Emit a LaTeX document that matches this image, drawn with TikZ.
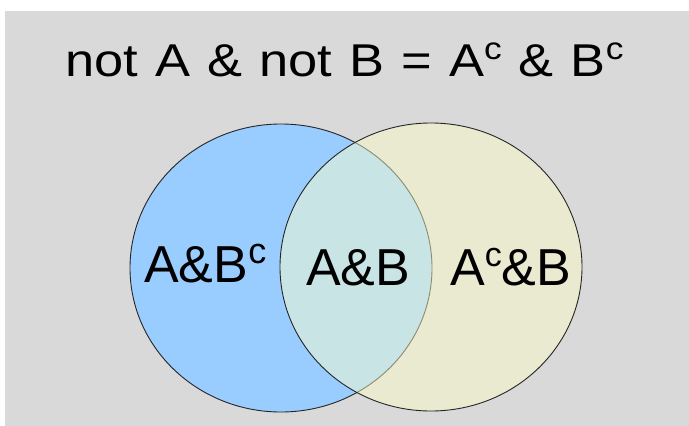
\documentclass[tikz,border=0pt]{standalone}
\usepackage{fontspec}
\setmainfont{Liberation Sans}
\definecolor{panelgray}{HTML}{D9D9D9}
\definecolor{setblue}{HTML}{99CCFF}
\definecolor{setcream}{HTML}{FFFFC8}
% raised small "c" for complements: #1 = size, #2 = raise
\newcommand{\compl}[2]{\raisebox{#2}{\fontsize{#1}{#1}\selectfont c}}
\begin{document}
\begin{tikzpicture}[x=1pt,y=-1pt,
  setline/.style={draw=black!85, line width=0.9pt},
  label/.style={inner sep=0pt, anchor=base west, font=\fontsize{52}{52}\selectfont},
  titletext/.style={inner sep=0pt, anchor=base west, font=\fontsize{46}{46}\selectfont}]
  \useasboundingbox (0,0) rectangle (689,426);
  \fill[white] (0,0) rectangle (689,426);
  \fill[panelgray] (5,11) rectangle (689,426);

  % set A, then set B laid over it with a translucent fill
  \path[fill=setblue, setline] (281,268) ellipse [x radius=151, y radius=144];
  \path[fill=setcream, fill opacity=0.47, setline] (431,267) ellipse [x radius=151, y radius=144];

  \node[titletext] (title) at (65,76)
    {\scalebox{1.14}[1]{\spaceskip=15pt not A \& not B = A\compl{31}{17pt} \& B\compl{31}{17pt}}};

  \node[label] (aonly) at (144,282) {A\&B\compl{36}{19pt}};
  \node[label] (both) at (306,285) {A\&B};
  \node[label] (bonly) at (450,285) {A\compl{34}{19pt}\&B};
\end{tikzpicture}
\end{document}
